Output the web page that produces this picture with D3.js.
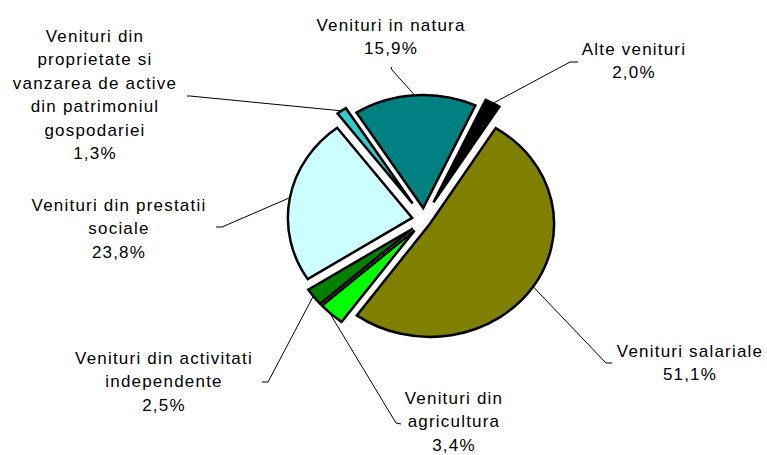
<!DOCTYPE html>
<html>
<head>
<meta charset="utf-8">
<script src="https://cdn.jsdelivr.net/npm/d3@7"></script>
<style>
    body { margin: 0; background: #fff; }
    svg { display: block; }
    text { font-family: "Liberation Sans", Arial, sans-serif; font-size: 17px; letter-spacing: 1.2px; fill: #000; }
</style>
</head>
<body>
<div id="container"></div>
<script>
// slices, clockwise starting at 32 degrees
const categories = [
    'Venituri salariale',
    'Venituri din agricultura',
    'Venituri din activitati independente',
    'Venituri din prestatii sociale',
    'Venituri din proprietate si vanzarea de active din patrimoniul gospodariei',
    'Venituri in natura',
    'Alte venituri'
];
const values = [51.1, 3.4, 2.5, 23.8, 1.3, 15.9, 2.0];
const labelLines = [
    ['Venituri salariale'],
    ['Venituri din', 'agricultura'],
    ['Venituri din activitati', 'independente'],
    ['Venituri din prestatii', 'sociale'],
    ['Venituri din', 'proprietate si', 'vanzarea de active', 'din patrimoniul', 'gospodariei'],
    ['Venituri in natura'],
    ['Alte venituri']
];

const colors = ['#808000', '#00ff00', '#008000', '#ccffff', '#33cccc', '#008080', '#000000'];
// how far each slice is pulled out
const explode = [7, 14, 14, 12, 20, 12, 20];
// label position (center x, first baseline) and leader elbow
const labelPos = [[690, 357], [454, 404], [164, 364], [119, 211], [95, 42], [391, 31], [634, 55]];
const leaderElbow = [
    [[612, 363], [606, 363]],
    [[401, 424], [396, 423]],
    [[262, 382], [268, 382]],
    [[216, 227], [222, 227]],
    [[187, 96], [190, 96]],
    [[391, 67], [392, 70]],
    [[578, 62], [570, 62]]
];

const width = 767;
const height = 455;
const cx = 424, cy = 220;
const ry = 113;
const sx = 1.1; // pie is a bit wider than tall

const data = categories.map((c, i) => ({ name: c, value: values[i], i }));

const pie = d3.pie()
    .sort(null)
    .value(d => d.value)
    .startAngle(32 * Math.PI / 180)
    .endAngle(32 * Math.PI / 180 + 2 * Math.PI);

const arcs = pie(data);

const arc = d3.arc().innerRadius(0).outerRadius(ry);

const svg = d3.select('#container')
    .append('svg')
    .attr('width', width)
    .attr('height', height);

const g = svg.append('g')
    .attr('transform', `translate(${cx},${cy}) scale(${sx},1)`);

const mid = d => (d.startAngle + d.endAngle) / 2;

g.selectAll('path')
    .data(arcs)
    .join('path')
    .attr('d', arc)
    .attr('transform', d => {
        const a = mid(d), e = explode[d.data.i];
        return `translate(${Math.sin(a) * e / sx},${-Math.cos(a) * e})`;
    })
    .attr('fill', d => colors[d.data.i])
    .attr('stroke', '#000')
    .attr('stroke-width', 2.5)
    .attr('stroke-linejoin', 'miter')
    .attr('vector-effect', 'non-scaling-stroke');

// point on the outer edge of a slice, in page coords
const edgePoint = d => {
    const a = mid(d), r = ry + explode[d.data.i];
    return [cx + Math.sin(a) * r * sx, cy - Math.cos(a) * r];
};

const fmt = v => d3.format('.1f')(v).replace('.', ',') + '%';

svg.append('g')
    .selectAll('path')
    .data(arcs)
    .join('path')
    .attr('d', d => d3.line()([...leaderElbow[d.data.i], edgePoint(d)]))
    .attr('fill', 'none')
    .attr('stroke', '#000')
    .attr('stroke-width', 1);

const lh = 23.4;
const label = svg.append('g')
    .selectAll('text')
    .data(arcs)
    .join('text')
    .attr('text-anchor', 'middle');

label.selectAll('tspan')
    .data(d => labelLines[d.data.i].concat(fmt(d.data.value)).map((t, k) => ({ t, k, i: d.data.i })))
    .join('tspan')
    .attr('x', d => labelPos[d.i][0])
    .attr('y', d => labelPos[d.i][1] + d.k * lh)
    .text(d => d.t);
</script>
</body>
</html>
